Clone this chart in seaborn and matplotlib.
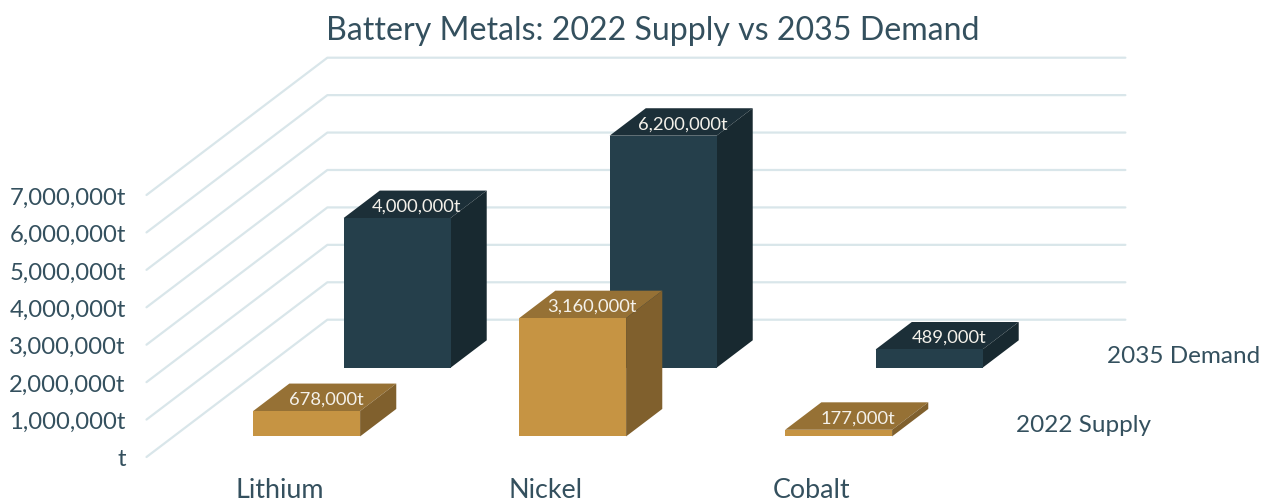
import matplotlib
matplotlib.use("Agg")
import matplotlib.pyplot as plt
from matplotlib.patches import Polygon
import numpy as np
import pandas as pd
import seaborn as sns

# Chart data
metals = ["Lithium", "Nickel", "Cobalt"]
supply_2022 = [678000, 3160000, 177000]
demand_2035 = [4000000, 6200000, 489000]
value_ticks = [0, 1000000, 2000000, 3000000, 4000000, 5000000, 6000000, 7000000]
title = "Battery Metals: 2022 Supply vs 2035 Demand"

# Oblique projection: moving one full unit of depth shifts a point right and up
DEPTH_X = 0.68
DEPTH_Y = 3.668e6
BAR_WIDTH = 0.402
BAR_DEPTH = 0.2
FLOOR_LEFT, FLOOR_RIGHT = -0.5, 2.5

INK = "#34505E"
GRID = "#D9E6EA"
FONT = "Lato"
WEIGHT = "normal"
PALETTE = {
    "demand": dict(front="#253F4B", top="#1C2F38", side="#182930"),
    "supply": dict(front="#C69443", top="#967135", side="#80602D"),
}


def project(x, value, depth):
    return x + DEPTH_X * depth, value + DEPTH_Y * depth


def fmt(value):
    return f"{value:,}t" if value else "t"


sns.set_theme(style="white")
plt.rcParams["font.family"] = [FONT, "DejaVu Sans"]

fig = plt.figure(figsize=(12.68, 5.02), dpi=100)
ax = fig.add_axes([0, 0, 1, 1])
ax.patch.set_alpha(0)

# Wall and floor guide lines for each value step
for v in value_ticks:
    xs, ys = zip(project(FLOOR_LEFT, v, 0), project(FLOOR_LEFT, v, 1), project(FLOOR_RIGHT, v, 1))
    ax.plot(xs, ys, color=GRID, lw=1.6, zorder=1, solid_joinstyle="round")


def draw_row(values, depth, colors, z):
    """Draw one row of blocks: a seaborn bar as the front face, polygons for top and side."""
    positions = np.arange(len(values))
    fx, base = project(positions, 0, depth)
    frame = pd.DataFrame({"x": fx, "value": values})
    sns.barplot(
        data=frame, x="x", y="value", ax=ax, native_scale=True, width=BAR_WIDTH,
        bottom=base, color=colors["front"], saturation=1, errorbar=None,
        zorder=z + 1, linewidth=0,
    )
    for pos, val in zip(positions, values):
        left, right = pos - BAR_WIDTH / 2, pos + BAR_WIDTH / 2
        back = depth + BAR_DEPTH
        top_face = [project(left, val, depth), project(right, val, depth),
                    project(right, val, back), project(left, val, back)]
        side_face = [project(right, 0, depth), project(right, val, depth),
                     project(right, val, back), project(right, 0, back)]
        ax.add_patch(Polygon(top_face, closed=True, fc=colors["top"], ec="none", zorder=z))
        ax.add_patch(Polygon(side_face, closed=True, fc=colors["side"], ec="none", zorder=z))
        lx, ly = project(pos, val, depth + BAR_DEPTH / 2)
        ax.annotate(fmt(val), (lx, ly), xytext=(1.2, -1), textcoords="offset points",
                    color="#F4F1EA", fontsize=13.2, fontweight=WEIGHT,
                    ha="center", va="center", zorder=z + 2)


draw_row(demand_2035, 0.65, PALETTE["demand"], 3)
draw_row(supply_2022, 0.15, PALETTE["supply"], 7)

# Axes span the whole canvas; the floor front edge lands where the value axis starts
px_x = 266.0
px_y = 37.43 / 1e6
ax.set_xlim(-279.5 / px_x, (1268 - 279.5) / px_x)
ax.set_ylim(-(502 - 458) / px_y, 458 / px_y)

ax.set_xlabel("")
ax.set_ylabel("")
ax.set_xticks(range(len(metals)), metals)
ax.set_yticks(value_ticks, [fmt(v) for v in value_ticks])
ax.tick_params(axis="y", length=0, pad=-90.5, labelsize=17.2, labelcolor=INK)
ax.tick_params(axis="x", length=0, pad=-17, labelsize=19.4, labelcolor=INK)
for lab in ax.get_xticklabels() + ax.get_yticklabels():
    lab.set_fontweight(WEIGHT)
sns.despine(ax=ax, left=True, bottom=True)

# Row names sit to the right of the last block in each row
ax.text(3.11, 2.71e6, "2035 Demand", color=INK, fontsize=17.5, fontweight=WEIGHT, va="center")
ax.text(2.77, 0.88e6, "2022 Supply", color=INK, fontsize=17.5, fontweight=WEIGHT, va="center")

ax.text(653 / 1268, 1 - 31 / 502, title, transform=ax.transAxes, color=INK, fontsize=23.1,
        fontweight=WEIGHT, ha="center", va="center")

fig.savefig("out.png", dpi=100)
